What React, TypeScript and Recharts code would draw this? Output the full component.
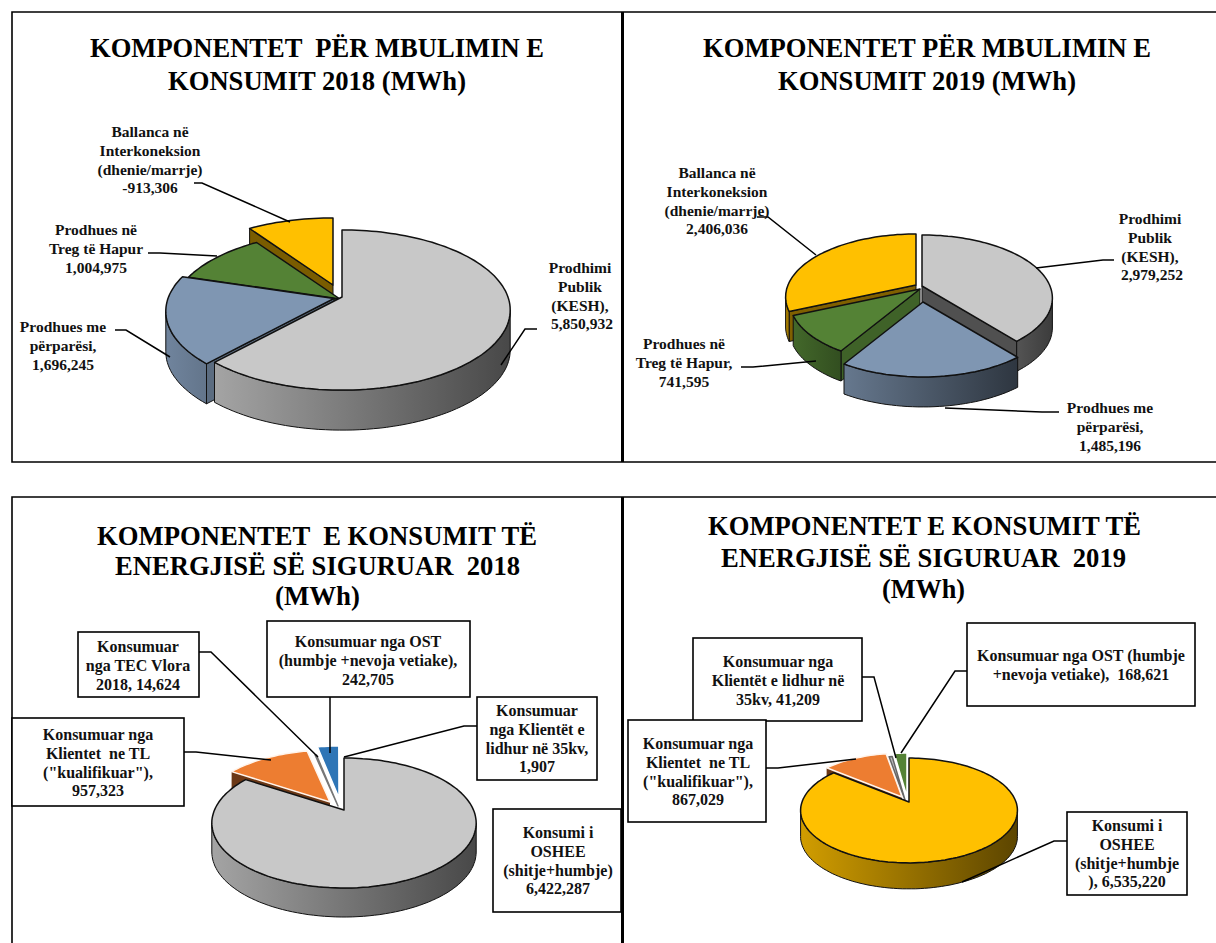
import * as React from 'react';
import { PieChart, Pie } from 'recharts';

const SERIF = '"Liberation Serif", "Times New Roman", serif';

// Series, in the order the slices run clockwise from twelve o'clock
const supplyNames = ['Prodhimi Publik (KESH)', 'Prodhues me përparësi', 'Prodhues në Treg të Hapur', 'Ballanca në Interkoneksion'];
const supply2018 = [5850932, 1696245, 1004975, 913306];
const supply2019 = [2979252, 1485196, 741595, 2406036];

const useNames2018 = ['Konsumi i OSHEE', 'Klientet ne TL', 'TEC Vlora', 'OST', 'Klientët 35kv'];
const use2018 = [6422287, 957323, 14624, 242705, 1907];
const useNames2019 = ['Konsumi i OSHEE', 'Klientet ne TL', 'Klientët 35kv', 'OST'];
const use2019 = [6535220, 867029, 41209, 168621];

const GRAY = '#C8C8C8';
const BLUE = '#7F96B2';
const GREEN = '#548235';
const YELLOW = '#FFC000';
const ORANGE = '#ED7D31';
const DEEP_BLUE = '#2E75B6';

type Note = { lines: string[]; x: number; y: number; box?: number[] };
type TitleLine = { text: string; x0: number; x1: number; y: number };

interface PanelSpec {
  id: string;
  names: string[];
  values: number[];
  fills: string[];
  edges: string[];
  walls: number[][]; // rim gradient, left and right brightness
  faces: (number | null)[]; // brightness of the cut faces, null when none is drawn
  faceStroke: string;
  nudge: number[][];
  paint: number[];
  cx: number;
  cy: number;
  rx: number;
  ry: number;
  persp: number;
  depth: number;
  titles: TitleLine[];
  notes: Note[];
  leaders: number[][];
}

const panels: PanelSpec[] = [
  {
    id: 'a',
    names: supplyNames,
    values: supply2018,
    fills: [GRAY, BLUE, GREEN, YELLOW],
    edges: ['#111', '#111', '#111', '#111'],
    walls: [[0.82, 0.36], [0.88, 0.78], [0.8, 0.6], [0.6, 0.45]],
    faces: [0.42, 0.72, 0.6, 0.48],
    faceStroke: '#111',
    nudge: [[0, 0], [-8, 1.5], [-2, 2], [-9, -12]],
    paint: [3, 2, 1, 0],
    cx: 342, cy: 297, rx: 166, ry: 78, persp: 0.1625, depth: 40,
    titles: [
      { text: 'KOMPONENTET  PËR MBULIMIN E', x0: 90, x1: 544, y: 57 },
      { text: 'KONSUMIT 2018 (MWh)', x0: 168, x1: 466, y: 90 },
    ],
    notes: [
      { lines: ['Ballanca në', 'Interkoneksion', '(dhenie/marrje)', '-913,306'], x: 150, y: 132 },
      { lines: ['Prodhues në', 'Treg të Hapur', '1,004,975'], x: 96, y: 230 },
      { lines: ['Prodhues me', 'përparësi,', '1,696,245'], x: 63, y: 327 },
      { lines: ['Prodhimi', 'Publik', '(KESH),', ' 5,850,932'], x: 580, y: 268 },
    ],
    leaders: [
      [194, 183, 202, 183, 290, 222],
      [148, 253, 160, 253, 217, 256],
      [115, 330, 126, 330, 170, 357],
      [537, 329, 525, 329, 501, 365],
    ],
  },
  {
    id: 'b',
    names: supplyNames,
    values: supply2019,
    fills: [GRAY, BLUE, GREEN, YELLOW],
    edges: ['#111', '#111', '#111', '#111'],
    walls: [[0.42, 0.3], [0.8, 0.36], [0.8, 0.6], [0.72, 0.55]],
    faces: [0.4, 0.5, 0.75, 0.5],
    faceStroke: '#111',
    nudge: [[0, 0], [1, 16], [-2, 3], [-6, -1]],
    paint: [3, 2, 0, 1],
    cx: 922, cy: 286, rx: 128, ry: 60.7, persp: 0.19, depth: 30,
    titles: [
      { text: 'KOMPONENTET PËR MBULIMIN E', x0: 703, x1: 1151, y: 57 },
      { text: 'KONSUMIT 2019 (MWh)', x0: 778, x1: 1076, y: 90 },
    ],
    notes: [
      { lines: ['Ballanca në', 'Interkoneksion', '(dhenie/marrje)', '2,406,036'], x: 717, y: 173 },
      { lines: ['Prodhimi', 'Publik', '(KESH),', ' 2,979,252'], x: 1150, y: 219 },
      { lines: ['Prodhues në', 'Treg të Hapur,', '741,595'], x: 684, y: 344 },
      { lines: ['Prodhues me', 'përparësi,', '1,485,196'], x: 1110, y: 408 },
    ],
    leaders: [
      [757, 217, 768, 217, 816, 255],
      [1114, 260, 1103, 260, 1036, 268],
      [741, 367, 753, 367, 816, 361],
      [1059, 412, 1042, 412, 945, 408],
    ],
  },
  {
    id: 'c',
    names: useNames2018,
    values: use2018,
    fills: [GRAY, ORANGE, '#555555', DEEP_BLUE, '#FFFFFF'],
    edges: ['#111', '#FFF4EC', '#777', '#FFFFFF', '#FFFFFF'],
    walls: [[0.82, 0.36], [0.5, 0.4], [0.5, 0.4], [0.5, 0.4], [1, 1]],
    faces: [0.42, 0.45, null, null, null],
    faceStroke: 'none',
    nudge: [[0, 0], [-14, -8], [-6, -4], [-5, -12], [-2, -6]],
    paint: [1, 2, 3, 4, 0],
    cx: 344, cy: 810, rx: 129.5, ry: 62.4, persp: 0.2, depth: 29,
    titles: [
      { text: 'KOMPONENTET  E KONSUMIT TË', x0: 97, x1: 537, y: 545 },
      { text: 'ENERGJISË SË SIGURUAR  2018', x0: 115, x1: 520, y: 575 },
      { text: '(MWh)', x0: 275, x1: 360, y: 605 },
    ],
    notes: [
      { lines: ['Konsumuar', 'nga TEC Vlora', '2018, 14,624'], x: 138, y: 647, box: [78, 632, 199, 697] },
      { lines: ['Konsumuar nga OST', '(humbje +nevoja vetiake),', '242,705'], x: 368, y: 642, box: [267, 621, 470, 697] },
      { lines: ['Konsumuar', 'nga Klientët e', 'lidhur në 35kv,', '1,907'], x: 537, y: 711, box: [477, 697, 597, 780] },
      { lines: ['Konsumuar nga', 'Klientet  ne TL', '("kualifikuar"),', '957,323'], x: 98, y: 735, box: [12, 718, 184, 806] },
      { lines: ['Konsumi i', 'OSHEE', '(shitje+humbje)', '6,422,287'], x: 558, y: 833, box: [493, 809, 621, 912] },
    ],
    leaders: [
      [199, 652, 211, 652, 318, 757],
      [330, 697, 330, 753],
      [477, 726, 464, 726, 344, 757],
      [184, 752, 196, 752, 271, 760],
    ],
  },
  {
    id: 'd',
    names: useNames2019,
    values: use2019,
    fills: [YELLOW, ORANGE, '#BBBBBB', GREEN],
    edges: ['#111', '#FFF4EC', '#666', '#FFFFFF'],
    walls: [[0.82, 0.36], [0.5, 0.4], [0.5, 0.4], [0.5, 0.4]],
    faces: [0.42, 0.45, null, null],
    faceStroke: 'none',
    nudge: [[0, 0], [-7, -5], [-4, -2], [-2, -5]],
    paint: [1, 2, 3, 0],
    cx: 909, cy: 802, rx: 107, ry: 51, persp: 0.162, depth: 26,
    titles: [
      { text: 'KOMPONENTET E KONSUMIT TË', x0: 708, x1: 1141, y: 535 },
      { text: 'ENERGJISË SË SIGURUAR  2019', x0: 721, x1: 1126, y: 567 },
      { text: '(MWh)', x0: 882, x1: 965, y: 598 },
    ],
    notes: [
      { lines: ['Konsumuar nga', 'Klientët e lidhur në', '35kv, 41,209'], x: 778, y: 662, box: [693, 638, 862, 721] },
      { lines: ['Konsumuar nga OST (humbje', '+nevoja vetiake),  168,621'], x: 1081, y: 656, box: [967, 623, 1195, 706] },
      { lines: ['Konsumuar nga', 'Klientet  ne TL', '("kualifikuar"),', '867,029'], x: 698, y: 744, box: [628, 720, 766, 822] },
      { lines: ['Konsumi i', 'OSHEE', '(shitje+humbje', '), 6,535,220'], x: 1127, y: 826, box: [1067, 812, 1187, 895] },
    ],
    leaders: [
      [862, 677, 874, 677, 896, 758],
      [967, 671, 955, 671, 901, 753],
      [766, 768, 778, 768, 856, 759],
      [1067, 841, 1054, 841, 962, 882],
    ],
  },
];

function shade(hex: string, f: number) {
  const n = parseInt(hex.slice(1), 16);
  const c = [(n >> 16) & 255, (n >> 8) & 255, n & 255].map((v) => Math.round(v * f));
  return `rgb(${c[0]},${c[1]},${c[2]})`;
}

// Slice drawn as a tilted disc: the pie's angles go through a perspective projection
function TiltedSlice({ spec, k, sector }: { spec: PanelSpec; k: number; sector: any }) {
  const { cx, cy, outerRadius, startAngle, endAngle } = sector;
  const [dx, dy] = spec.nudge[k];
  const t0 = 90 - startAngle;
  const t1 = 90 - endAngle;
  const squash = spec.ry / spec.rx;

  const at = (deg: number, shift = 0): [number, number] => {
    const a = (deg * Math.PI) / 180;
    const w = 1 + spec.persp * Math.cos(a);
    return [
      cx + dx + (outerRadius * Math.sin(a)) / w,
      cy + dy + shift - (outerRadius * squash * Math.cos(a)) / w,
    ];
  };
  const arc = (from: number, to: number, shift = 0) => {
    const n = Math.max(1, Math.ceil(Math.abs(to - from) / 2));
    const pts: [number, number][] = [];
    for (let i = 0; i <= n; i++) pts.push(at(from + ((to - from) * i) / n, shift));
    return pts;
  };
  const toPath = (pts: [number, number][]) =>
    'M' + pts.map((p) => `${p[0].toFixed(1)},${p[1].toFixed(1)}`).join('L') + 'Z';

  const apex: [number, number] = [cx + dx, cy + dy];
  const drop = (p: [number, number]): [number, number] => [p[0], p[1] + spec.depth];
  const base = spec.fills[k];
  const gradId = `wall-${spec.id}-${k}`;
  const faceLevel = spec.faces[k];

  // a cut face shows only when it turns towards the viewer
  const showStart = faceLevel !== null && Math.sin((t0 * Math.PI) / 180) < -0.01;
  const showEnd = faceLevel !== null && Math.sin((t1 * Math.PI) / 180) > 0.01;

  // only the front of the rim can be seen
  const limit = (Math.acos(-spec.persp) * 180) / Math.PI;
  const w0 = Math.max(t0, limit);
  const w1 = Math.min(t1, 360 - limit);

  return (
    <g>
      <defs>
        <linearGradient id={gradId} x1="0" x2="1" y1="0" y2="0">
          <stop offset="0%" stopColor={shade(base, spec.walls[k][0])} />
          <stop offset="100%" stopColor={shade(base, spec.walls[k][1])} />
        </linearGradient>
      </defs>
      {showStart && (
        <path d={toPath([apex, at(t0), drop(at(t0)), drop(apex)])} fill={shade(base, faceLevel as number)} stroke={spec.faceStroke} strokeWidth={1} />
      )}
      {showEnd && (
        <path d={toPath([apex, at(t1), drop(at(t1)), drop(apex)])} fill={shade(base, faceLevel as number)} stroke={spec.faceStroke} strokeWidth={1} />
      )}
      {w1 > w0 && (
        <path
          d={toPath([...arc(w0, w1), ...arc(w1, w0, spec.depth)])}
          fill={`url(#${gradId})`}
          stroke="#111"
          strokeWidth={1}
        />
      )}
      <path d={toPath([apex, ...arc(t0, t1)])} fill={base} stroke={spec.edges[k]} strokeWidth={1.5} strokeLinejoin="round" />
    </g>
  );
}

function Panel({ spec }: { spec: PanelSpec }) {
  const rows = spec.names.map((name, i) => ({ name, value: spec.values[i] }));
  return (
    <PieChart
      width={1216}
      height={943}
      margin={{ top: 0, right: 0, bottom: 0, left: 0 }}
      style={{ position: 'absolute', left: 0, top: 0 }}
    >
      {spec.paint.map((k) => (
        <Pie
          key={k}
          data={rows}
          dataKey="value"
          nameKey="name"
          cx={spec.cx}
          cy={spec.cy}
          outerRadius={spec.rx}
          startAngle={90}
          endAngle={-270}
          stroke="none"
          isAnimationActive={false}
          shape={(sector: any) =>
            sector.name === spec.names[k] ? <TiltedSlice spec={spec} k={k} sector={sector} /> : <g />
          }
        />
      ))}
    </PieChart>
  );
}

function Annotations({ spec }: { spec: PanelSpec }) {
  return (
    <g>
      {spec.titles.map((t) => (
        <text
          key={t.text}
          x={t.x0}
          y={t.y}
          textLength={t.x1 - t.x0}
          lengthAdjust="spacingAndGlyphs"
          fontFamily={SERIF}
          fontWeight={700}
          fontSize={28}
          fill="#000"
          style={{ whiteSpace: 'pre' }}
        >
          {t.text}
        </text>
      ))}
      {spec.leaders.map((l, i) => (
        <polyline key={i} points={l.join(' ')} fill="none" stroke="#000" strokeWidth={1.5} />
      ))}
      {spec.notes.map((n) => (
        <g key={n.lines[0] + n.x}>
          {n.box && (
            <rect
              x={n.box[0]}
              y={n.box[1]}
              width={n.box[2] - n.box[0]}
              height={n.box[3] - n.box[1]}
              fill="#fff"
              stroke="#000"
              strokeWidth={1.6}
            />
          )}
          {n.lines.map((line, i) => (
            <text
              key={i}
              x={n.x}
              y={n.y + i * 18.8 + 5}
              textAnchor="middle"
              fontFamily={SERIF}
              fontWeight={700}
              fontSize={n.box ? 16 : 15.5}
              fill="#111"
              style={{ whiteSpace: 'pre' }}
            >
              {line}
            </text>
          ))}
        </g>
      ))}
    </g>
  );
}

export default function App() {
  return (
    <div style={{ position: 'absolute', left: 0, top: 0, width: 1216, height: 943, background: '#fff', overflow: 'hidden' }}>
      {panels.map((p) => (
        <Panel key={p.id} spec={p} />
      ))}
      <svg width={1216} height={943} style={{ position: 'absolute', left: 0, top: 0 }}>
        {/* frames */}
        <polyline points="1216,12 12,12 12,462 1216,462" fill="none" stroke="#000" strokeWidth={1.6} />
        <polyline points="1216,497 12,497 12,943" fill="none" stroke="#000" strokeWidth={1.6} />
        <line x1={622.5} y1={12} x2={622.5} y2={462} stroke="#000" strokeWidth={3} />
        <line x1={622.5} y1={497} x2={622.5} y2={943} stroke="#000" strokeWidth={3} />
        {panels.map((p) => (
          <Annotations key={p.id} spec={p} />
        ))}
      </svg>
    </div>
  );
}
